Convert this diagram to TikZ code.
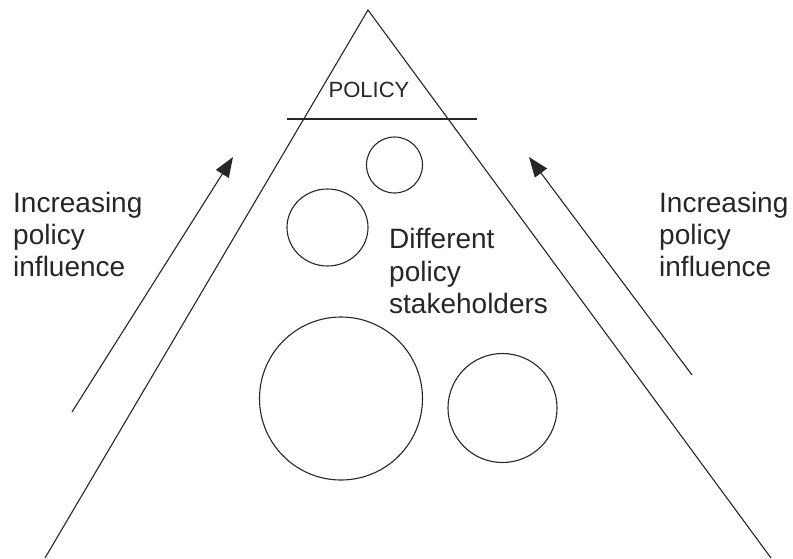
\documentclass[tikz,border=0pt]{standalone}
\usepackage{fontspec}
\setmainfont{Liberation Sans}
\usetikzlibrary{arrows.meta,shapes.geometric}
\tikzset{
  thinline/.style={line width=1.1pt, draw=black!85},
  bigtext/.style={anchor=base west, inner sep=0pt, font=\fontsize{28}{33}\selectfont, text=black!85},
  holder/.style={circle, draw=black!85, line width=1.1pt, inner sep=0pt},
  upArrow/.style={thinline, -{Triangle[length=20pt,width=15pt]}}
}
\begin{document}
\begin{tikzpicture}[x=1pt,y=-1pt]
\useasboundingbox (0,0) rectangle (793,558);
% triangle
\coordinate (apex) at (368,10);
\coordinate (bl) at (45,558);
\coordinate (br) at (771,558);
\draw[thinline] (bl) -- (apex) -- (br);
\coordinate (hl) at (287,119);
\coordinate (hr) at (477,119);
\draw[thinline] (hl) -- (hr);
\node[anchor=base, inner sep=0pt, font=\fontsize{22}{26}\selectfont, text=black!85] (policy) at (369,97) {POLICY};
% circles
\node[holder, minimum size=56pt] (c1) at (394.5,165) {};
\node[ellipse, draw=black!85, line width=1.1pt, inner sep=0pt, minimum width=81pt, minimum height=77pt] (c2) at (327.5,227.5) {};
\node[holder, minimum size=163pt] (c3) at (341,398.5) {};
\node[holder, minimum size=109pt] (c4) at (502.5,408) {};
% center text
\node[bigtext] (d1) at (389,248) {Different};
\node[bigtext] (d2) at (389,281) {policy};
\node[bigtext] (d3) at (389,313) {stakeholders};
% left text
\node[bigtext] (l1) at (13,212) {Increasing};
\node[bigtext] (l2) at (13,244) {policy};
\node[bigtext] (l3) at (13,276) {influence};
% right text
\node[bigtext] (r1) at (659,212) {Increasing};
\node[bigtext] (r2) at (659,244) {policy};
\node[bigtext] (r3) at (659,276) {influence};
% arrows
\coordinate (lt) at (72,412);
\coordinate (lh) at (233,157);
\coordinate (rt) at (692,375);
\coordinate (rh) at (529,157);
\draw[upArrow] (lt) -- (lh);
\draw[upArrow] (rt) -- (rh);
\end{tikzpicture}
\end{document}
